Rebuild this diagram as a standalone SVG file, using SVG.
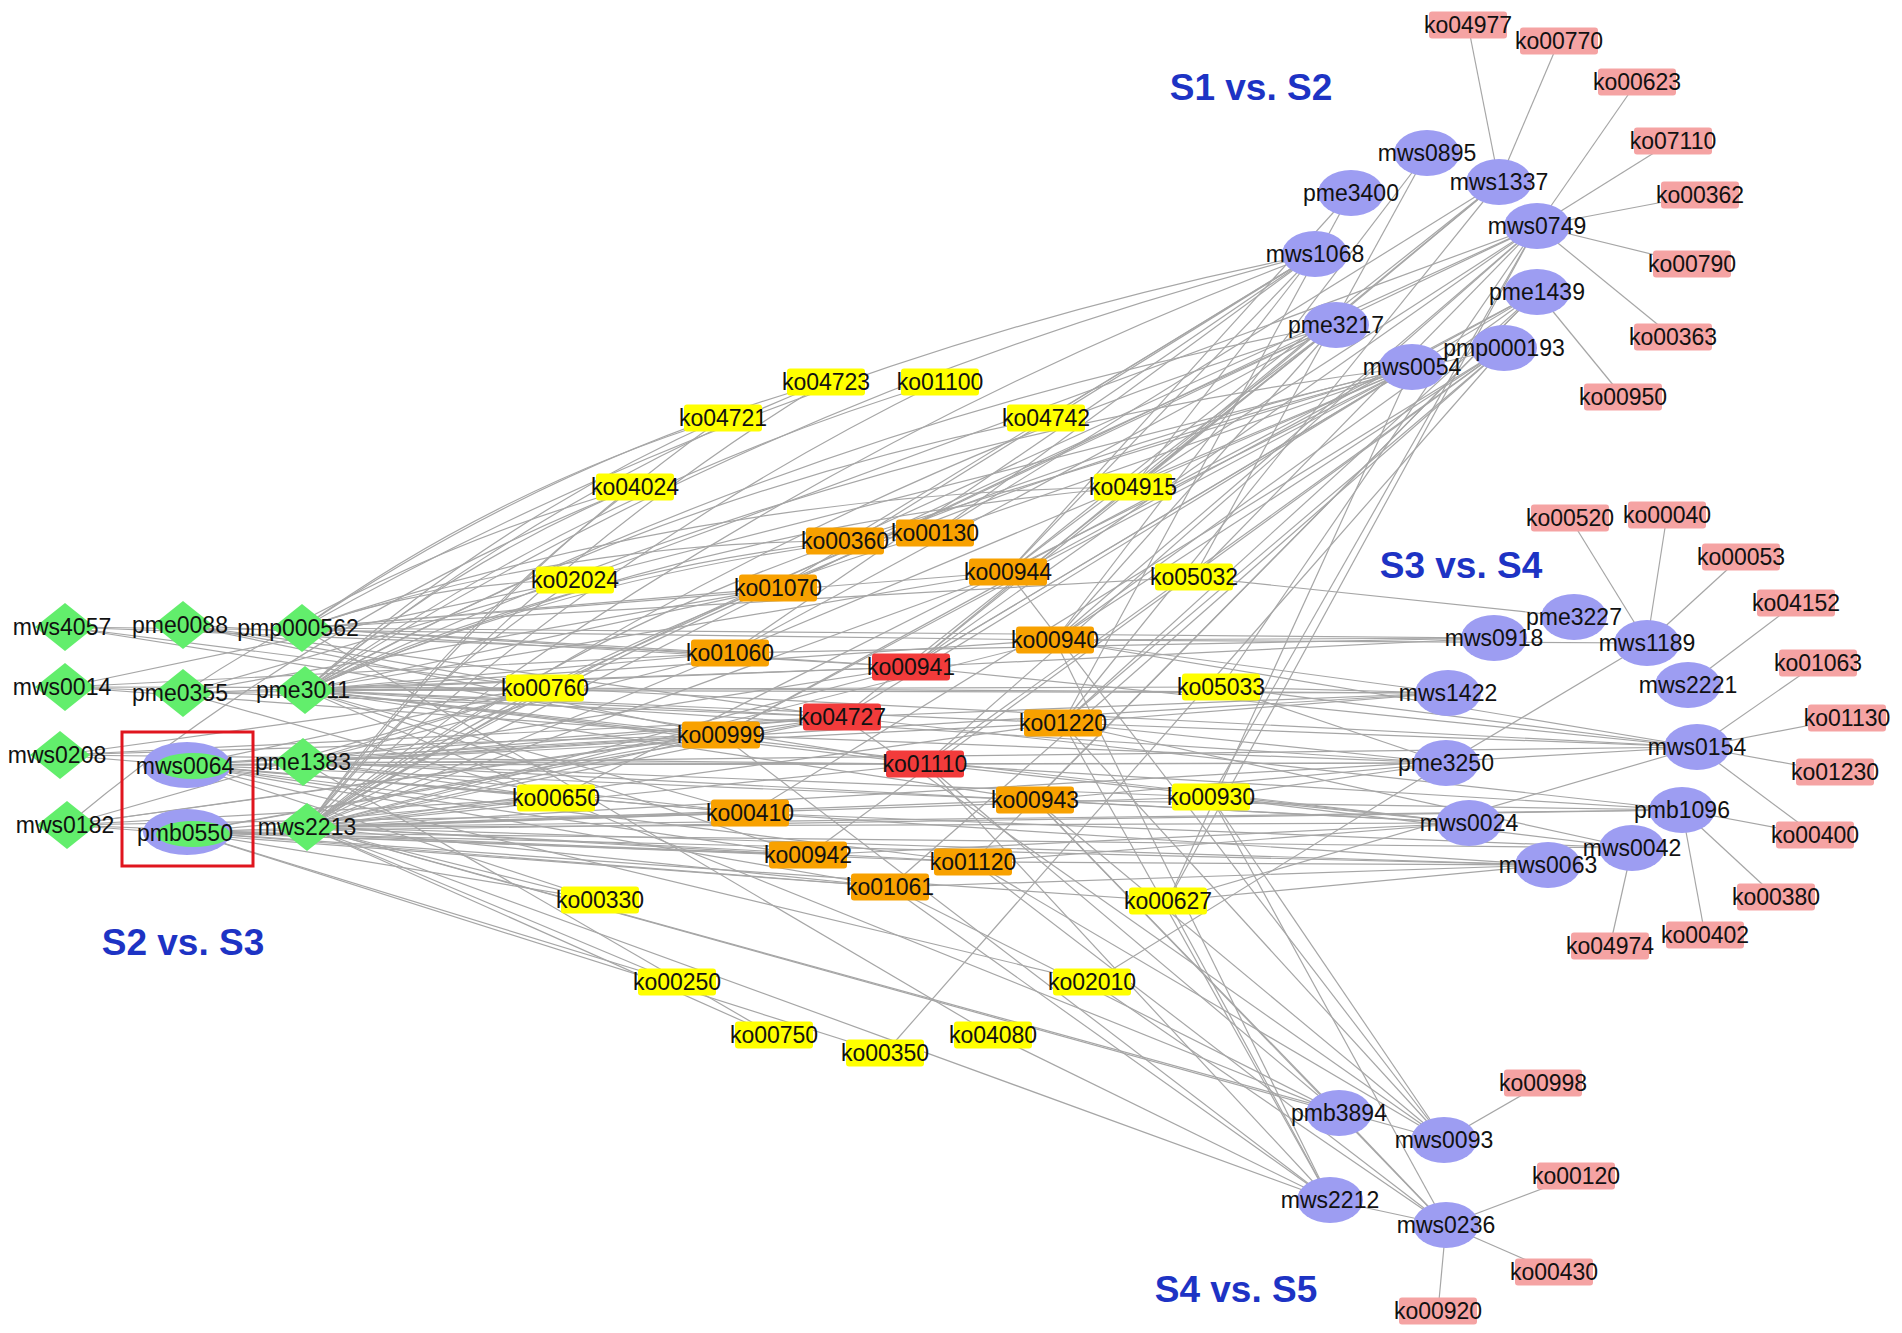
<svg xmlns="http://www.w3.org/2000/svg" width="1902" height="1333" viewBox="0 0 1902 1333">
<style>
.e path{fill:none;stroke:#a6a6a6;stroke-width:1.2}
.y{fill:#ffff00}.o{fill:#f8a100}.r{fill:#f23b3b}.p{fill:#f5a3a3}
.b{fill:#9d9df2}.g{fill:#62ee6c}
text{font-family:"Liberation Sans",Arial,sans-serif;font-size:23px;fill:#111;text-anchor:middle}
.lbl{font-weight:bold;font-size:37px;fill:#1d33c4}
</style>
<defs>
<rect id="box" x="-39" y="-13.5" width="78" height="27" rx="3"/>
<ellipse id="ell" rx="33" ry="23"/>
<polygon id="dia" points="-30,0 0,-24 30,0 0,24"/>
</defs>
<rect width="1902" height="1333" fill="#fff"/>
<g id="connectors" class="e">
<path d="M1499 182L1468 25"/><path d="M1499 182L1559 41"/><path d="M1537 226L1637 82"/><path d="M1537 226L1673 141"/><path d="M1537 226L1700 195"/><path d="M1537 226L1692 264"/><path d="M1537 226L1673 337"/><path d="M1537 292L1623 397"/>
<path d="M1647 643L1570 518"/><path d="M1647 643L1667 515"/><path d="M1647 643L1741 557"/><path d="M1688 685L1796 603"/><path d="M1697 747L1818 663"/><path d="M1697 747L1847 718"/><path d="M1697 747L1835 772"/><path d="M1697 747L1815 835"/><path d="M1682 810L1815 835"/><path d="M1682 810L1776 897"/><path d="M1682 810L1705 935"/><path d="M1632 848L1610 946"/>
<path d="M1444 1140L1543 1083"/><path d="M1446 1225L1576 1176"/><path d="M1446 1225L1554 1272"/><path d="M1446 1225L1438 1311"/>
<path d="M305 690Q541 494 826 382"/><path d="M305 690Q492 521 723 418"/><path d="M305 690Q454 562 635 487"/><path d="M305 690Q598 485 940 382"/><path d="M305 690Q654 495 1046 418"/><path d="M305 690Q703 522 1133 487"/><path d="M305 690Q563 572 845 541"/><path d="M305 690Q607 561 935 533"/><path d="M305 690Q775 391 1315 254"/><path d="M305 690Q791 425 1336 325"/><path d="M305 690Q833 440 1412 367"/>
<path d="M305 690L778 588"/><path d="M305 690L1008 572"/><path d="M305 690L545 688"/><path d="M305 690L730 653"/><path d="M305 690L911 667"/><path d="M305 690L842 717"/><path d="M305 690L721 735"/><path d="M305 690L925 764"/><path d="M305 690L556 798"/><path d="M305 690L750 813"/><path d="M305 690L1035 800"/><path d="M305 690L1063 723"/><path d="M305 690L1055 640"/><path d="M305 690L1221 687"/><path d="M305 690L1448 693"/><path d="M305 690L1446 763"/><path d="M305 690L1469 823"/><path d="M305 690L808 855"/>
<path d="M307 827Q531 563 826 382"/><path d="M307 827Q482 589 723 418"/><path d="M307 827Q444 631 635 487"/><path d="M307 827Q588 554 940 382"/><path d="M307 827Q553 641 845 541"/><path d="M307 827Q598 630 935 533"/><path d="M307 827Q421 682 575 580"/><path d="M307 827Q765 460 1315 254"/><path d="M307 827Q781 494 1336 325"/><path d="M307 827Q823 509 1412 367"/><path d="M307 827Q867 492 1504 348"/>
<path d="M307 827L778 588"/><path d="M307 827L1008 572"/><path d="M307 827L1055 640"/><path d="M307 827L545 688"/><path d="M307 827L730 653"/><path d="M307 827L911 667"/><path d="M307 827L842 717"/><path d="M307 827L721 735"/><path d="M307 827L925 764"/><path d="M307 827L1063 723"/><path d="M307 827L556 798"/><path d="M307 827L750 813"/><path d="M307 827L808 855"/><path d="M307 827L973 862"/><path d="M307 827L890 887"/><path d="M307 827L1035 800"/><path d="M307 827L1211 797"/><path d="M307 827L600 900"/><path d="M307 827L677 982"/><path d="M307 827L774 1035"/><path d="M307 827L1548 865"/><path d="M307 827L1469 823"/><path d="M307 827L1682 810"/><path d="M307 827L1697 747"/><path d="M307 827L1330 1200"/><path d="M307 827L1444 1140"/><path d="M307 827L1339 1113"/>
<path d="M302 628Q544 463 826 382"/><path d="M302 628Q496 489 723 418"/><path d="M302 628Q435 582 575 580"/><path d="M302 628Q567 541 845 541"/><path d="M302 628Q706 491 1133 487"/><path d="M302 628Q779 360 1315 254"/>
<path d="M302 628L778 588"/><path d="M302 628L1008 572"/><path d="M302 628L1194 577"/><path d="M302 628L911 667"/><path d="M302 628L730 653"/><path d="M302 628L1494 638"/><path d="M302 628L993 1035"/>
<path d="M65 627L545 688"/><path d="M65 627L730 653"/><path d="M65 627L1055 640"/><path d="M65 627L925 764"/>
<path d="M183 625L911 667"/><path d="M183 625L721 735"/><path d="M183 625L545 688"/><path d="M183 625L842 717"/>
<path d="M65 687L545 688"/><path d="M65 687L842 717"/><path d="M65 687L730 653"/><path d="M65 687L575 580"/><path d="M65 687L721 735"/>
<path d="M183 693L575 580"/><path d="M183 693L545 688"/><path d="M183 693L778 588"/><path d="M183 693L911 667"/><path d="M183 693L556 798"/><path d="M183 693Q393 554 635 487"/>
<path d="M60 755L545 688"/><path d="M60 755L721 735"/><path d="M60 755L842 717"/><path d="M60 755L925 764"/><path d="M60 755L750 813"/>
<path d="M187 765L545 688"/><path d="M187 765L721 735"/><path d="M187 765L842 717"/><path d="M187 765L925 764"/><path d="M187 765L556 798"/><path d="M187 765L750 813"/><path d="M187 765L808 855"/><path d="M187 765L890 887"/><path d="M187 765L973 862"/><path d="M187 765L1035 800"/><path d="M187 765L1697 747"/><path d="M187 765L1446 763"/><path d="M187 765L600 900"/><path d="M187 765L1092 982"/>
<path d="M303 762L545 688"/><path d="M303 762L721 735"/><path d="M303 762L842 717"/><path d="M303 762L730 653"/><path d="M303 762L911 667"/><path d="M303 762L925 764"/><path d="M303 762L556 798"/><path d="M303 762L750 813"/><path d="M303 762L1063 723"/><path d="M303 762L1211 797"/><path d="M303 762L1448 693"/><path d="M303 762L1469 823"/><path d="M303 762L774 1035"/>
<path d="M67 825L556 798"/><path d="M67 825L750 813"/><path d="M67 825L808 855"/><path d="M67 825L890 887"/><path d="M67 825L721 735"/><path d="M67 825L842 717"/><path d="M67 825L545 688"/><path d="M67 825Q324 611 635 487"/>
<path d="M187 832L677 982"/><path d="M187 832L885 1053"/><path d="M187 832L600 900"/><path d="M187 832L556 798"/><path d="M187 832L750 813"/><path d="M187 832L808 855"/><path d="M187 832L890 887"/><path d="M187 832L973 862"/><path d="M187 832L1168 901"/><path d="M187 832L1548 865"/><path d="M187 832L1632 848"/><path d="M187 832L1682 810"/><path d="M187 832L721 735"/><path d="M187 832L842 717"/>
<path d="M1427 153L1194 577"/><path d="M1427 153L1055 640"/>
<path d="M1351 193L1063 723"/><path d="M1351 193L1008 572"/>
<path d="M1499 182L1133 487"/><path d="M1499 182L1008 572"/><path d="M1499 182L911 667"/><path d="M1499 182L935 533"/><path d="M1499 182L1063 723"/>
<path d="M1537 226L1133 487"/><path d="M1537 226L1194 577"/><path d="M1537 226L1055 640"/><path d="M1537 226L778 588"/><path d="M1537 226L845 541"/><path d="M1537 226L911 667"/><path d="M1537 226L925 764"/><path d="M1537 226L1221 687"/><path d="M1537 226L1211 797"/><path d="M1537 226L575 580"/><path d="M1537 226L1168 901"/>
<path d="M1315 254L1133 487"/><path d="M1315 254L935 533"/><path d="M1315 254L1008 572"/><path d="M1315 254L845 541"/><path d="M1315 254L778 588"/><path d="M1315 254L730 653"/><path d="M1315 254L1046 418"/>
<path d="M1537 292L1055 640"/><path d="M1537 292L1008 572"/><path d="M1537 292L1063 723"/><path d="M1537 292L911 667"/><path d="M1537 292L1035 800"/><path d="M1537 292L973 862"/><path d="M1537 292L721 735"/>
<path d="M1336 325L1133 487"/><path d="M1336 325L1008 572"/><path d="M1336 325L778 588"/><path d="M1336 325L1055 640"/><path d="M1336 325L842 717"/><path d="M1336 325L911 667"/><path d="M1336 325L730 653"/><path d="M1336 325L545 688"/>
<path d="M1504 348L885 1053"/><path d="M1504 348L1055 640"/><path d="M1504 348L925 764"/><path d="M1504 348L890 887"/><path d="M1504 348L808 855"/><path d="M1504 348L1063 723"/><path d="M1504 348L750 813"/>
<path d="M1412 367L1133 487"/><path d="M1412 367L935 533"/><path d="M1412 367L845 541"/><path d="M1412 367L911 667"/><path d="M1412 367L842 717"/><path d="M1412 367L721 735"/><path d="M1412 367L730 653"/><path d="M1412 367L556 798"/><path d="M1412 367L1168 901"/><path d="M1412 367L575 580"/>
<path d="M1574 617L1194 577"/>
<path d="M1494 638L1055 640"/><path d="M1494 638L911 667"/><path d="M1494 638L730 653"/>
<path d="M1647 643L1055 640"/><path d="M1647 643L1446 763"/>
<path d="M1448 693L1055 640"/><path d="M1448 693L842 717"/><path d="M1448 693L1063 723"/><path d="M1448 693L1221 687"/><path d="M1448 693L545 688"/>
<path d="M1446 763L1221 687"/><path d="M1446 763L1063 723"/><path d="M1446 763L925 764"/><path d="M1446 763L1035 800"/><path d="M1446 763L1211 797"/><path d="M1446 763L721 735"/><path d="M1446 763L1092 982"/>
<path d="M1469 823L1211 797"/><path d="M1469 823L1035 800"/><path d="M1469 823L925 764"/><path d="M1469 823L973 862"/><path d="M1469 823L808 855"/>
<path d="M1548 865L890 887"/><path d="M1548 865L973 862"/><path d="M1548 865L750 813"/><path d="M1548 865L1168 901"/>
<path d="M1632 848L1063 723"/><path d="M1632 848L1211 797"/><path d="M1632 848L750 813"/>
<path d="M1682 810L925 764"/><path d="M1682 810L1035 800"/><path d="M1682 810L842 717"/>
<path d="M1697 747L1221 687"/><path d="M1697 747L1055 640"/><path d="M1697 747L911 667"/><path d="M1697 747L1063 723"/><path d="M1697 747L1168 901"/><path d="M1697 747L545 688"/>
<path d="M1339 1113L925 764"/><path d="M1339 1113L1035 800"/><path d="M1339 1113L890 887"/><path d="M1339 1113L1446 1225"/><path d="M1339 1113L556 798"/>
<path d="M1444 1140L1035 800"/><path d="M1444 1140L1063 723"/><path d="M1444 1140L1211 797"/><path d="M1444 1140L973 862"/><path d="M1444 1140L842 717"/><path d="M1444 1140L1008 572"/>
<path d="M1330 1200L925 764"/><path d="M1330 1200L890 887"/><path d="M1330 1200L993 1035"/><path d="M1330 1200L1168 901"/><path d="M1330 1200L1063 723"/><path d="M1330 1200L721 735"/><path d="M1330 1200L1446 1225"/><path d="M1330 1200L1055 640"/>
<path d="M1446 1225L973 862"/><path d="M1446 1225L1092 982"/><path d="M1446 1225L1035 800"/><path d="M1446 1225L1211 797"/>
</g>
<g id="n-ko04723"><use href="#box" x="826" y="382" class="y"/><text x="826" y="390">ko04723</text></g>
<g id="n-ko01100"><use href="#box" x="940" y="382" class="y"/><text x="940" y="390">ko01100</text></g>
<g id="n-ko04721"><use href="#box" x="723" y="418" class="y"/><text x="723" y="426">ko04721</text></g>
<g id="n-ko04742"><use href="#box" x="1046" y="418" class="y"/><text x="1046" y="426">ko04742</text></g>
<g id="n-ko04024"><use href="#box" x="635" y="487" class="y"/><text x="635" y="495">ko04024</text></g>
<g id="n-ko04915"><use href="#box" x="1133" y="487" class="y"/><text x="1133" y="495">ko04915</text></g>
<g id="n-ko00360"><use href="#box" x="845" y="541" class="o"/><text x="845" y="549">ko00360</text></g>
<g id="n-ko00130"><use href="#box" x="935" y="533" class="o"/><text x="935" y="541">ko00130</text></g>
<g id="n-ko02024"><use href="#box" x="575" y="580" class="y"/><text x="575" y="588">ko02024</text></g>
<g id="n-ko01070"><use href="#box" x="778" y="588" class="o"/><text x="778" y="596">ko01070</text></g>
<g id="n-ko00944"><use href="#box" x="1008" y="572" class="o"/><text x="1008" y="580">ko00944</text></g>
<g id="n-ko05032"><use href="#box" x="1194" y="577" class="y"/><text x="1194" y="585">ko05032</text></g>
<g id="n-ko00940"><use href="#box" x="1055" y="640" class="o"/><text x="1055" y="648">ko00940</text></g>
<g id="n-ko01060"><use href="#box" x="730" y="653" class="o"/><text x="730" y="661">ko01060</text></g>
<g id="n-ko00941"><use href="#box" x="911" y="667" class="r"/><text x="911" y="675">ko00941</text></g>
<g id="n-ko00760"><use href="#box" x="545" y="688" class="y"/><text x="545" y="696">ko00760</text></g>
<g id="n-ko05033"><use href="#box" x="1221" y="687" class="y"/><text x="1221" y="695">ko05033</text></g>
<g id="n-ko04727"><use href="#box" x="842" y="717" class="r"/><text x="842" y="725">ko04727</text></g>
<g id="n-ko00999"><use href="#box" x="721" y="735" class="o"/><text x="721" y="743">ko00999</text></g>
<g id="n-ko01220"><use href="#box" x="1063" y="723" class="o"/><text x="1063" y="731">ko01220</text></g>
<g id="n-ko01110"><use href="#box" x="925" y="764" class="r"/><text x="925" y="772">ko01110</text></g>
<g id="n-ko00650"><use href="#box" x="556" y="798" class="y"/><text x="556" y="806">ko00650</text></g>
<g id="n-ko00943"><use href="#box" x="1035" y="800" class="o"/><text x="1035" y="808">ko00943</text></g>
<g id="n-ko00930"><use href="#box" x="1211" y="797" class="y"/><text x="1211" y="805">ko00930</text></g>
<g id="n-ko00410"><use href="#box" x="750" y="813" class="o"/><text x="750" y="821">ko00410</text></g>
<g id="n-ko00942"><use href="#box" x="808" y="855" class="o"/><text x="808" y="863">ko00942</text></g>
<g id="n-ko01120"><use href="#box" x="973" y="862" class="o"/><text x="973" y="870">ko01120</text></g>
<g id="n-ko01061"><use href="#box" x="890" y="887" class="o"/><text x="890" y="895">ko01061</text></g>
<g id="n-ko00330"><use href="#box" x="600" y="900" class="y"/><text x="600" y="908">ko00330</text></g>
<g id="n-ko00627"><use href="#box" x="1168" y="901" class="y"/><text x="1168" y="909">ko00627</text></g>
<g id="n-ko00250"><use href="#box" x="677" y="982" class="y"/><text x="677" y="990">ko00250</text></g>
<g id="n-ko02010"><use href="#box" x="1092" y="982" class="y"/><text x="1092" y="990">ko02010</text></g>
<g id="n-ko00750"><use href="#box" x="774" y="1035" class="y"/><text x="774" y="1043">ko00750</text></g>
<g id="n-ko04080"><use href="#box" x="993" y="1035" class="y"/><text x="993" y="1043">ko04080</text></g>
<g id="n-ko00350"><use href="#box" x="885" y="1053" class="y"/><text x="885" y="1061">ko00350</text></g>
<g id="n-ko04977"><use href="#box" x="1468" y="25" class="p"/><text x="1468" y="33">ko04977</text></g>
<g id="n-ko00770"><use href="#box" x="1559" y="41" class="p"/><text x="1559" y="49">ko00770</text></g>
<g id="n-ko00623"><use href="#box" x="1637" y="82" class="p"/><text x="1637" y="90">ko00623</text></g>
<g id="n-ko07110"><use href="#box" x="1673" y="141" class="p"/><text x="1673" y="149">ko07110</text></g>
<g id="n-ko00362"><use href="#box" x="1700" y="195" class="p"/><text x="1700" y="203">ko00362</text></g>
<g id="n-ko00790"><use href="#box" x="1692" y="264" class="p"/><text x="1692" y="272">ko00790</text></g>
<g id="n-ko00363"><use href="#box" x="1673" y="337" class="p"/><text x="1673" y="345">ko00363</text></g>
<g id="n-ko00950"><use href="#box" x="1623" y="397" class="p"/><text x="1623" y="405">ko00950</text></g>
<g id="n-ko00520"><use href="#box" x="1570" y="518" class="p"/><text x="1570" y="526">ko00520</text></g>
<g id="n-ko00040"><use href="#box" x="1667" y="515" class="p"/><text x="1667" y="523">ko00040</text></g>
<g id="n-ko00053"><use href="#box" x="1741" y="557" class="p"/><text x="1741" y="565">ko00053</text></g>
<g id="n-ko04152"><use href="#box" x="1796" y="603" class="p"/><text x="1796" y="611">ko04152</text></g>
<g id="n-ko01063"><use href="#box" x="1818" y="663" class="p"/><text x="1818" y="671">ko01063</text></g>
<g id="n-ko01130"><use href="#box" x="1847" y="718" class="p"/><text x="1847" y="726">ko01130</text></g>
<g id="n-ko01230"><use href="#box" x="1835" y="772" class="p"/><text x="1835" y="780">ko01230</text></g>
<g id="n-ko00400"><use href="#box" x="1815" y="835" class="p"/><text x="1815" y="843">ko00400</text></g>
<g id="n-ko00380"><use href="#box" x="1776" y="897" class="p"/><text x="1776" y="905">ko00380</text></g>
<g id="n-ko00402"><use href="#box" x="1705" y="935" class="p"/><text x="1705" y="943">ko00402</text></g>
<g id="n-ko04974"><use href="#box" x="1610" y="946" class="p"/><text x="1610" y="954">ko04974</text></g>
<g id="n-ko00998"><use href="#box" x="1543" y="1083" class="p"/><text x="1543" y="1091">ko00998</text></g>
<g id="n-ko00120"><use href="#box" x="1576" y="1176" class="p"/><text x="1576" y="1184">ko00120</text></g>
<g id="n-ko00430"><use href="#box" x="1554" y="1272" class="p"/><text x="1554" y="1280">ko00430</text></g>
<g id="n-ko00920"><use href="#box" x="1438" y="1311" class="p"/><text x="1438" y="1319">ko00920</text></g>
<g id="n-mws0895"><use href="#ell" x="1427" y="153" class="b"/><text x="1427" y="161">mws0895</text></g>
<g id="n-mws1337"><use href="#ell" x="1499" y="182" class="b"/><text x="1499" y="190">mws1337</text></g>
<g id="n-pme3400"><use href="#ell" x="1351" y="193" class="b"/><text x="1351" y="201">pme3400</text></g>
<g id="n-mws0749"><use href="#ell" x="1537" y="226" class="b"/><text x="1537" y="234">mws0749</text></g>
<g id="n-mws1068"><use href="#ell" x="1315" y="254" class="b"/><text x="1315" y="262">mws1068</text></g>
<g id="n-pme1439"><use href="#ell" x="1537" y="292" class="b"/><text x="1537" y="300">pme1439</text></g>
<g id="n-pme3217"><use href="#ell" x="1336" y="325" class="b"/><text x="1336" y="333">pme3217</text></g>
<g id="n-pmp000193"><use href="#ell" x="1504" y="348" class="b"/><text x="1504" y="356">pmp000193</text></g>
<g id="n-mws0054"><use href="#ell" x="1412" y="367" class="b"/><text x="1412" y="375">mws0054</text></g>
<g id="n-pme3227"><use href="#ell" x="1574" y="617" class="b"/><text x="1574" y="625">pme3227</text></g>
<g id="n-mws0918"><use href="#ell" x="1494" y="638" class="b"/><text x="1494" y="646">mws0918</text></g>
<g id="n-mws1189"><use href="#ell" x="1647" y="643" class="b"/><text x="1647" y="651">mws1189</text></g>
<g id="n-mws2221"><use href="#ell" x="1688" y="685" class="b"/><text x="1688" y="693">mws2221</text></g>
<g id="n-mws1422"><use href="#ell" x="1448" y="693" class="b"/><text x="1448" y="701">mws1422</text></g>
<g id="n-mws0154"><use href="#ell" x="1697" y="747" class="b"/><text x="1697" y="755">mws0154</text></g>
<g id="n-pme3250"><use href="#ell" x="1446" y="763" class="b"/><text x="1446" y="771">pme3250</text></g>
<g id="n-pmb1096"><use href="#ell" x="1682" y="810" class="b"/><text x="1682" y="818">pmb1096</text></g>
<g id="n-mws0024"><use href="#ell" x="1469" y="823" class="b"/><text x="1469" y="831">mws0024</text></g>
<g id="n-mws0042"><use href="#ell" x="1632" y="848" class="b"/><text x="1632" y="856">mws0042</text></g>
<g id="n-mws0063"><use href="#ell" x="1548" y="865" class="b"/><text x="1548" y="873">mws0063</text></g>
<g id="n-pmb3894"><use href="#ell" x="1339" y="1113" class="b"/><text x="1339" y="1121">pmb3894</text></g>
<g id="n-mws0093"><use href="#ell" x="1444" y="1140" class="b"/><text x="1444" y="1148">mws0093</text></g>
<g id="n-mws2212"><use href="#ell" x="1330" y="1200" class="b"/><text x="1330" y="1208">mws2212</text></g>
<g id="n-mws0236"><use href="#ell" x="1446" y="1225" class="b"/><text x="1446" y="1233">mws0236</text></g>
<g id="n-mws4057"><use href="#dia" x="65" y="627" class="g"/><text x="62" y="635">mws4057</text></g>
<g id="n-pme0088"><use href="#dia" x="183" y="625" class="g"/><text x="180" y="633">pme0088</text></g>
<g id="n-pmp000562"><use href="#dia" x="302" y="628" class="g"/><text x="298" y="636">pmp000562</text></g>
<g id="n-mws0014"><use href="#dia" x="65" y="687" class="g"/><text x="62" y="695">mws0014</text></g>
<g id="n-pme0355"><use href="#dia" x="183" y="693" class="g"/><text x="180" y="701">pme0355</text></g>
<g id="n-pme3011"><use href="#dia" x="305" y="690" class="g"/><text x="303" y="698">pme3011</text></g>
<g id="n-mws0208"><use href="#dia" x="60" y="755" class="g"/><text x="57" y="763">mws0208</text></g>
<g id="n-pme1383"><use href="#dia" x="303" y="762" class="g"/><text x="303" y="770">pme1383</text></g>
<g id="n-mws0182"><use href="#dia" x="67" y="825" class="g"/><text x="65" y="833">mws0182</text></g>
<g id="n-mws2213"><use href="#dia" x="307" y="827" class="g"/><text x="307" y="835">mws2213</text></g>
<g id="n-mws0064"><ellipse cx="187" cy="765" rx="44" ry="23" class="b"/><ellipse cx="193" cy="766" rx="37" ry="13" class="g"/><text x="185" y="774">mws0064</text></g>
<g id="n-pmb0550"><ellipse cx="187" cy="832" rx="44" ry="23" class="b"/><ellipse cx="193" cy="834" rx="37" ry="13" class="g"/><text x="185" y="841">pmb0550</text></g>
<rect id="highlight" x="122" y="732" width="131" height="134" fill="none" stroke="#e0151e" stroke-width="3"/>
<g id="labels">
<text class="lbl" x="1251" y="100">S1 vs. S2</text>
<text class="lbl" x="1461" y="578">S3 vs. S4</text>
<text class="lbl" x="183" y="955">S2 vs. S3</text>
<text class="lbl" x="1236" y="1302">S4 vs. S5</text>
</g>
</svg>
